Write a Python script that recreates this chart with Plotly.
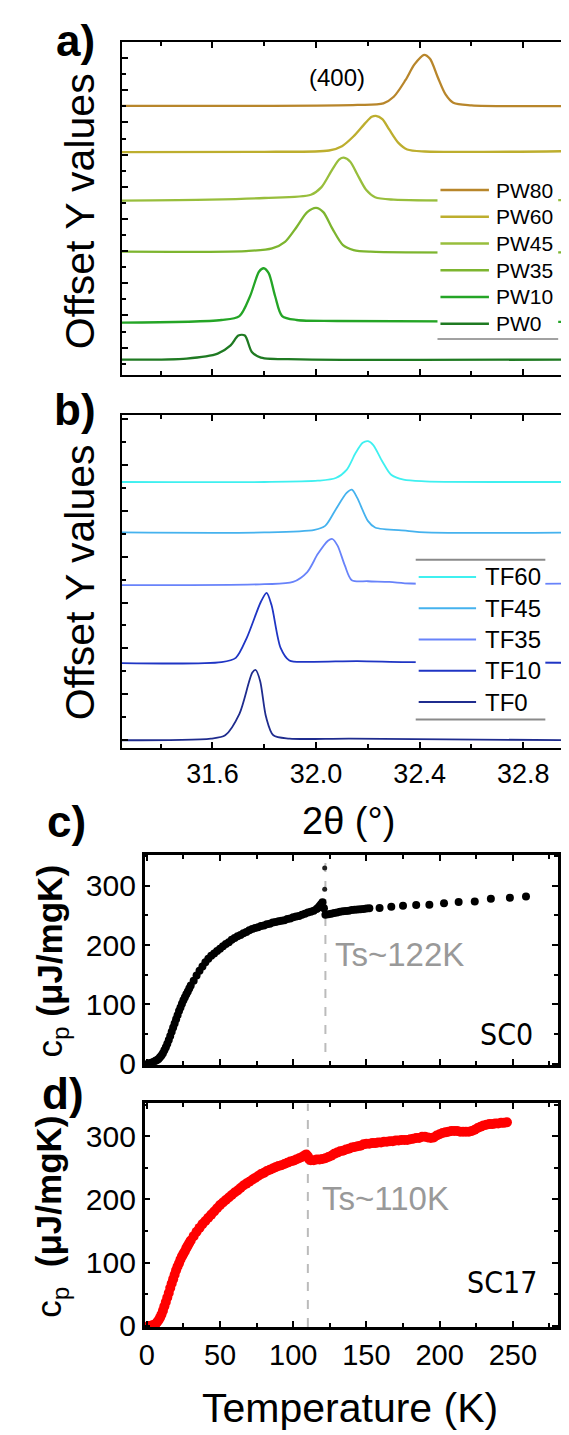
import plotly.graph_objects as go

W, H = 569, 1435
FONT = "Liberation Sans, Arial, sans-serif"
NARROW = "Liberation Sans Narrow, Arial Narrow, DejaVu Sans Condensed, sans-serif"


def px(x):
    return x / W


def py(y):
    return 1 - y / H


# ---------------- Panel a: PW series (2theta in deg, intensity rel. to baseline) ----------------
pw_names = ["PW80", "PW60", "PW45", "PW35", "PW10", "PW0"]
pw_colors = ["#B8862B", "#BDAE2E", "#98BE3C", "#7DB52F", "#24A526", "#1F7A22"]
pw_offsets = [272, 225.7, 177, 124.7, 53.7, 15.7]

pw80_x = [31.25, 31.80, 32.16, 32.26, 32.30, 32.345, 32.38, 32.417, 32.44, 32.47, 32.50, 32.53, 32.60, 33.0]
pw80_i = [0, 0, 1, 2.7, 9.3, 26, 42, 51.7, 47.7, 29, 11.7, 3.3, 0.7, 0]
pw60_x = [31.25, 31.80, 32.05, 32.10, 32.145, 32.19, 32.215, 32.231, 32.256, 32.283, 32.318, 32.352, 32.42, 33.0]
pw60_i = [-0.3, 0, 1.3, 5.7, 15.7, 29, 35.3, 36.3, 33, 22.3, 9, 2.3, 0.3, 0.7]
pw45_x = [31.25, 31.59, 31.80, 31.98, 32.02, 32.063, 32.09, 32.107, 32.132, 32.159, 32.194, 32.228, 32.30, 33.0]
pw45_i = [-0.7, 0.3, 2, 5.3, 12.7, 31, 41, 42.7, 38.7, 26, 10, 2.7, 0.3, 0]
pw35_x = [31.25, 31.73, 31.83, 31.88, 31.925, 31.966, 32.0, 32.028, 32.063, 32.104, 32.145, 32.21, 33.0]
pw35_i = [0, 0.7, 3.3, 10, 25, 40, 44.3, 40, 23.3, 6.7, 1.7, 0, -0.7]
pw10_x = [31.25, 31.635, 31.704, 31.745, 31.78, 31.798, 31.817, 31.842, 31.869, 31.925, 32.08, 33.0]
pw10_i = [-0.7, 2, 6, 26, 51, 54.3, 49.3, 26, 6, 2, 1, 0]
pw0_x = [31.25, 31.50, 31.62, 31.67, 31.70, 31.725, 31.752, 31.787, 31.94, 33.0]
pw0_i = [0, 1, 6, 14.3, 24.3, 24.3, 7.7, 2, 0.3, 0]
pw_x = [pw80_x, pw60_x, pw45_x, pw35_x, pw10_x, pw0_x]
pw_i = [pw80_i, pw60_i, pw45_i, pw35_i, pw10_i, pw0_i]

# ---------------- Panel b: TF series ----------------
tf_names = ["TF60", "TF45", "TF35", "TF10", "TF0"]
tf_colors = ["#3FF0F0", "#45B2EE", "#6883FA", "#1F35C4", "#1F2C8E"]
tf_offsets = [269, 218, 165.7, 86.3, 8.7]

tf60_x = [31.25, 31.80, 32.007, 32.076, 32.118, 32.152, 32.18, 32.201, 32.221, 32.256, 32.29, 32.338, 32.421, 33.0]
tf60_i = [0, 0, 1.3, 4, 12.3, 29, 39.7, 41.3, 37.3, 20.7, 7.3, 2.3, 0.7, 0]
tf45_x = [31.25, 31.80, 31.994, 32.035, 32.076, 32.118, 32.138, 32.159, 32.2, 32.228, 32.352, 32.421, 33.0]
tf45_i = [0, 0, 2.7, 6.7, 23.3, 40, 43.3, 35, 11.7, 5, 1.7, 0, 0]
tf35_x = [31.25, 31.80, 31.911, 31.966, 32.007, 32.046, 32.063, 32.083, 32.111, 32.138, 32.2, 32.283, 32.366, 33.0]
tf35_i = [-1, 0, 2.3, 12.3, 30.7, 44, 45.7, 39, 19, 4, 3, 2.3, 0.7, 0.7]
tf10_x = [31.25, 31.635, 31.69, 31.732, 31.787, 31.809, 31.828, 31.863, 31.897, 31.98, 32.159, 32.35, 33.0]
tf10_i = [-0.3, 0.7, 5, 25, 61.7, 70.7, 58.3, 15, 2.3, 1, 1.7, 0.7, 0]
tf0_x = [31.25, 31.594, 31.649, 31.704, 31.754, 31.767, 31.784, 31.807, 31.835, 31.897, 32.132, 33.0]
tf0_i = [-0.7, 1, 4.3, 26, 67.7, 70.3, 59.3, 22.7, 4.3, 1, 1, -0.7]
tf_x = [tf60_x, tf45_x, tf35_x, tf10_x, tf0_x]
tf_i = [tf60_i, tf45_i, tf35_i, tf10_i, tf0_i]

xrd_ticks = [31.6, 32.0, 32.4, 32.8]

# ---------------- Panel c: SC0 heat capacity ----------------
T_c = [1, 2, 3, 4, 5, 6, 7, 8, 9, 10, 11, 12, 13, 14, 15, 16, 17, 18, 19, 20,
       21, 22, 23, 24, 25, 26, 27, 28, 29, 30,
       32, 34, 36, 38, 40, 42, 44, 46, 48, 50, 52, 54, 56, 58, 60, 62, 64, 66, 68, 70,
       72, 74, 76, 78, 80, 82, 84, 86, 88, 90, 92, 94, 96, 98, 100, 102, 104, 106, 108, 110,
       112, 114, 116,
       117, 118, 119, 120, 121, 122,
       124, 126, 128, 130, 132, 134, 136, 138, 140, 142, 144, 146, 148, 150, 152,
       159, 167, 175, 184, 193, 203, 213, 224, 235, 248, 259]
cp_c = [0.5, 1, 1.5, 2.5, 3.5, 5, 6.5, 8, 11, 14, 18, 23, 28, 34, 40, 47, 54, 61, 68, 75,
        82, 89, 95, 101, 107, 112, 117, 122, 127, 132,
        140, 149, 157, 164, 171, 177, 182, 186, 190, 194, 198, 202, 205, 209, 212, 215, 217, 220, 222, 225,
        227, 229, 230, 232, 233, 235, 236, 238, 239, 240, 241, 242, 244, 245, 247, 248, 249, 251, 253, 255,
        256, 258, 261,
        263, 266, 269, 272, 262, 251,
        252, 253, 254, 255, 256, 257, 257.5, 258, 259, 259.5, 260, 260.5, 261, 261.5, 262,
        262.4, 264.6, 266.3, 267.4, 267.8, 270.7, 272.4, 273.5, 277.9, 279.6, 281.7]
T_c_spike = [121.5, 121.5]
cp_c_spike = [330, 294]
Ts_c = 122

# ---------------- Panel d: SC17 heat capacity ----------------
T_d = [1, 2, 3, 4, 5, 6, 7, 8, 9, 10, 11, 12, 13, 14, 15, 16, 17, 18, 19, 20,
       21, 22, 23, 24, 25, 26, 27, 28, 29, 30,
       32, 34, 36, 38, 40, 42, 44, 46, 48, 50, 52, 54, 56, 58, 60, 62, 64, 66, 68, 70,
       72, 74, 76, 78, 80, 82, 84, 86, 88, 90, 92, 94, 96, 98, 100, 102, 104, 106, 108,
       109, 110, 111, 112,
       114, 116, 118, 120, 122, 124, 126, 128, 130, 132, 134, 136, 138, 140, 142, 144, 146, 148, 150,
       152, 154, 156, 158, 160, 162, 164, 166, 168, 170, 172, 174, 176, 178, 180, 182, 184, 186, 188, 190,
       192, 194, 196, 198, 200, 202, 204, 206, 208, 210, 212, 214, 216, 218, 220, 222, 224, 226, 228, 230,
       232, 234, 236, 238, 240, 242, 244, 246]
cp_d = [0, 0, 0.5, 1, 1.5, 3, 6, 9, 13, 18, 24, 31, 38, 45, 52, 60, 67, 74, 81, 88,
        94, 99, 105, 110, 114, 118, 123, 127, 131, 135,
        142, 149, 155, 161, 166, 171, 176, 181, 186, 191, 195, 199, 203, 207, 211, 214, 218, 222, 225, 228,
        231, 234, 237, 240, 242, 245, 247, 249, 251, 253, 254, 256, 258, 260, 261, 263, 265, 267, 270,
        271, 268, 263, 262,
        262, 263, 263, 264, 265, 267, 269, 272, 274, 276, 277, 279, 280, 282, 283, 284, 285, 287, 288,
        288, 289, 289, 290, 290, 291, 291, 292, 292, 293, 293, 294, 294, 294, 295, 296, 297, 297, 299, 299,
        298, 297, 298, 301, 303, 305, 306, 307, 308, 308, 308, 307, 307, 307, 307, 308, 310, 313, 315, 317,
        318, 319, 319, 320, 320, 321, 321, 322]
Ts_d = 110

T_ticks = [0, 50, 100, 150, 200, 250]
cp_ticks = [0, 100, 200, 300]

fig = go.Figure()

for name, col, off, xs, ys in zip(pw_names, pw_colors, pw_offsets, pw_x, pw_i):
    fig.add_trace(go.Scatter(x=xs, y=[v + off for v in ys], mode="lines", name=name,
                             line=dict(color=col, width=2.3, shape="spline", smoothing=0.8),
                             xaxis="x", yaxis="y", showlegend=False))
for name, col, off, xs, ys in zip(tf_names, tf_colors, tf_offsets, tf_x, tf_i):
    fig.add_trace(go.Scatter(x=xs, y=[v + off for v in ys], mode="lines", name=name,
                             line=dict(color=col, width=1.8, shape="spline", smoothing=0.8),
                             xaxis="x2", yaxis="y2", showlegend=False))

fig.add_trace(go.Scatter(x=T_c, y=cp_c, mode="markers", marker=dict(color="black", size=8, line=dict(width=0)),
                         xaxis="x3", yaxis="y3", showlegend=False))
fig.add_trace(go.Scatter(x=T_c_spike, y=cp_c_spike, mode="markers", marker=dict(color="#222", size=5, line=dict(width=0)),
                         xaxis="x3", yaxis="y3", showlegend=False))
fig.add_trace(go.Scatter(x=T_d, y=cp_d, mode="markers", marker=dict(color="#FF0000", size=10, line=dict(width=0)),
                         xaxis="x4", yaxis="y4", showlegend=False))


def axstyle(lw=2, tl=6, size=27, **kw):
    d = dict(showline=True, linecolor="black", linewidth=lw, mirror="allticks",
             ticks="inside", ticklen=tl, tickwidth=2, tickcolor="black",
             showgrid=False, zeroline=False,
             tickfont=dict(family=FONT, size=size, color="black"))
    d.update(kw)
    return d


xa_dom = [px(109), px(567)]
xc_dom = [px(132), px(550)]

layout = dict(
    width=W, height=H, margin=dict(l=0, r=0, t=0, b=0),
    paper_bgcolor="white", plot_bgcolor="white", showlegend=False,
    xaxis=axstyle(domain=xa_dom, anchor="y", range=[31.25, 33.0], tickvals=xrd_ticks,
                  showticklabels=False,
                  minor=dict(ticks="inside", ticklen=4, tickwidth=1.5, tickcolor="black", dtick=0.2, tick0=31.4)),
    yaxis=axstyle(domain=[py(371), py(34)], anchor="x", range=[0, 337], tickmode="linear",
                  tick0=27.8, dtick=32.5, showticklabels=False,
                  minor=dict(ticks="inside", ticklen=4, tickwidth=1.5, tickcolor="black", dtick=16.25, tick0=11.55)),
    xaxis2=axstyle(domain=xa_dom, anchor="y2", range=[31.25, 33.0], tickvals=xrd_ticks,
                   tickformat=".1f", size=27,
                   minor=dict(ticks="inside", ticklen=4, tickwidth=1.5, tickcolor="black", dtick=0.2, tick0=31.4)),
    yaxis2=axstyle(domain=[py(748), py(411)], anchor="x2", range=[0, 337], tickmode="linear",
                   tick0=8, dtick=46.4, showticklabels=False,
                   minor=dict(ticks="inside", ticklen=4, tickwidth=1.5, tickcolor="black", dtick=23.2, tick0=8)),
    xaxis3=axstyle(lw=2.5, domain=xc_dom, anchor="y3", range=[-1.5, 281], tickvals=T_ticks,
                   showticklabels=False,
                   minor=dict(ticks="inside", ticklen=4, tickwidth=2, tickcolor="black", dtick=25, tick0=0)),
    yaxis3=axstyle(lw=2.5, domain=[py(1068), py(856)], anchor="x3", range=[-1.7, 351.7], tickvals=cp_ticks,
                   size=30,
                   minor=dict(ticks="inside", ticklen=4, tickwidth=2, tickcolor="black", dtick=50, tick0=0)),
    xaxis4=axstyle(lw=2.5, domain=xc_dom, anchor="y4", range=[-1.5, 281], tickvals=T_ticks, size=29,
                   minor=dict(ticks="inside", ticklen=4, tickwidth=2, tickcolor="black", dtick=25, tick0=0)),
    yaxis4=axstyle(lw=2.5, domain=[py(1333), py(1107)], anchor="x4", range=[-1.7, 351.7], tickvals=cp_ticks,
                   size=30,
                   minor=dict(ticks="inside", ticklen=4, tickwidth=2, tickcolor="black", dtick=50, tick0=0)),
)
fig.update_layout(**layout)

shapes = []
annotations = []

# Ts dashed lines
shapes.append(dict(type="line", xref="x3", yref="y3", x0=Ts_c, x1=Ts_c, y0=20, y1=351.7,
                   line=dict(color="#BBBBBB", width=2, dash="dash"), layer="below"))
shapes.append(dict(type="line", xref="x4", yref="y4", x0=Ts_d, x1=Ts_d, y0=-1.7, y1=351.7,
                   line=dict(color="#BBBBBB", width=2, dash="dash"), layer="below"))

# Legend a (manual)
shapes.append(dict(type="rect", xref="paper", yref="paper", x0=px(428), x1=px(550), y0=py(335), y1=py(175),
                   fillcolor="white", line=dict(width=0), layer="above"))
shapes.append(dict(type="line", xref="paper", yref="paper", x0=px(428), x1=px(550), y0=py(334.5), y1=py(334.5),
                   line=dict(color="#444444", width=1), layer="above"))
for k, (name, col) in enumerate(zip(pw_names, pw_colors)):
    yy = 184 + 27 * k
    shapes.append(dict(type="line", xref="paper", yref="paper", x0=px(431), x1=px(480), y0=py(yy), y1=py(yy),
                       line=dict(color=col, width=2.5), layer="above"))
    annotations.append(dict(xref="paper", yref="paper", x=px(485), y=py(yy), text=name, showarrow=False,
                            xanchor="left", yanchor="middle", font=dict(family=FONT, size=21, color="black")))

# Legend b (manual)
shapes.append(dict(type="rect", xref="paper", yref="paper", x0=px(406), x1=px(537), y0=py(719), y1=py(557),
                   fillcolor="white", line=dict(width=0), layer="above"))
for yy in (557.5, 719):
    shapes.append(dict(type="line", xref="paper", yref="paper", x0=px(406), x1=px(537), y0=py(yy), y1=py(yy),
                       line=dict(color="#8A8A8A", width=2), layer="above"))
for k, (name, col) in enumerate(zip(tf_names, tf_colors)):
    yy = 575 + 31.6 * k
    shapes.append(dict(type="line", xref="paper", yref="paper", x0=px(409), x1=px(467), y0=py(yy), y1=py(yy),
                       line=dict(color=col, width=2), layer="above"))
    annotations.append(dict(xref="paper", yref="paper", x=px(474), y=py(yy), text=name, showarrow=False,
                            xanchor="left", yanchor="middle", font=dict(family=FONT, size=24, color="black")))


def txt(x, y, text, size, angle=0, color="black", family=FONT, xanchor="center"):
    annotations.append(dict(xref="paper", yref="paper", x=px(x), y=py(y), text=text, showarrow=False,
                            textangle=angle, xanchor=xanchor, yanchor="middle",
                            font=dict(family=family, size=size, color=color)))


# Panel labels
txt(62, 33, "<b>a)</b>", 44)
txt(62, 406, "<b>b)</b>", 44)
txt(53, 822, "<b>c)</b>", 44)
txt(50, 1097, "<b>d)</b>", 44)

# Axis titles
txt(67, 205, "Offset Y values", 41, angle=-90)
txt(67, 580, "Offset Y values", 41, angle=-90)
txt(338, 822, "2θ (°)", 38)
txt(38, 963, "c<sub>p</sub> <b>(μJ/mgK)</b>", 35, angle=-90)
txt(38, 1222, "c<sub>p</sub>  <b>(μJ/mgK)</b>", 35, angle=-90)
txt(340, 1415, "Temperature (K)", 41)

# In-plot labels
txt(326, 70, "(400)", 24)
txt(390, 957, "Ts~122K", 33, color="#999999")
txt(375, 1203, "Ts~110K", 33, color="#999999")
txt(498, 1037, "SC0", 30, family=NARROW)
txt(493, 1288, "SC17", 30, family=NARROW)

fig.update_layout(shapes=shapes, annotations=annotations)
fig.write_html("out.html")
